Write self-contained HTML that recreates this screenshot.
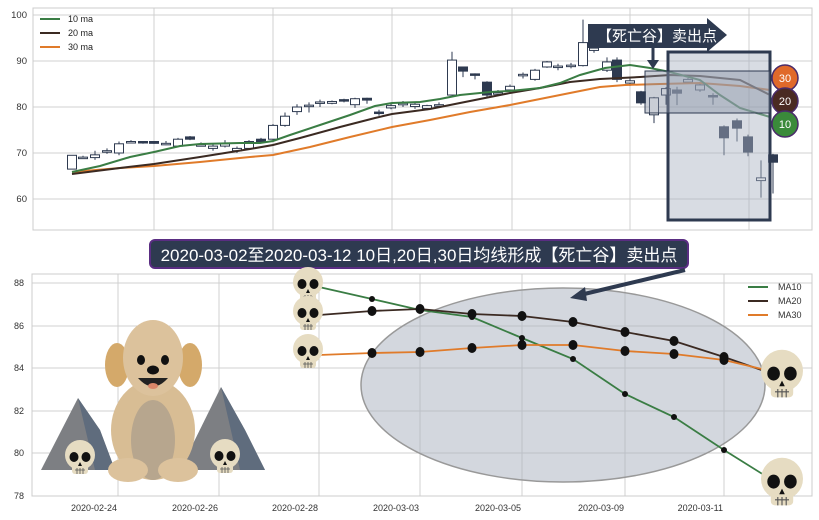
<!DOCTYPE html>
<html><head><meta charset="utf-8"><style>
html,body{margin:0;padding:0;background:#fff;width:819px;height:520px;overflow:hidden}
svg{display:block;font-family:"Liberation Sans","Noto Sans CJK SC",sans-serif}
</style></head><body>
<svg width="819" height="520" viewBox="0 0 819 520" xmlns="http://www.w3.org/2000/svg">
<defs>
<g id="sk">
<ellipse cx="0" cy="-3" rx="15" ry="15" fill="#e6dcc2"/>
<rect x="-8" y="6" width="16" height="10" rx="3" fill="#e6dcc2"/>
<ellipse cx="-6" cy="-1" rx="4.5" ry="5" fill="#111"/>
<ellipse cx="6" cy="-1" rx="4.5" ry="5" fill="#111"/>
<path d="M0 4 L-2 8 L2 8 Z" fill="#111"/>
<path d="M-5 12 H5 M-3 10 V16 M0 10 V16 M3 10 V16" stroke="#555" stroke-width="0.8"/>
</g>
</defs>
<!-- TOP CHART -->
<g stroke="#d0d0d0" stroke-width="1">
<line x1="33" y1="15" x2="812" y2="15"/><line x1="33" y1="61" x2="812" y2="61"/><line x1="33" y1="107" x2="812" y2="107"/><line x1="33" y1="153" x2="812" y2="153"/><line x1="33" y1="199" x2="812" y2="199"/>
<line x1="154" y1="8" x2="154" y2="230"/><line x1="273" y1="8" x2="273" y2="230"/><line x1="392" y1="8" x2="392" y2="230"/><line x1="512" y1="8" x2="512" y2="230"/><line x1="630" y1="8" x2="630" y2="230"/><line x1="749" y1="8" x2="749" y2="230"/>
</g>
<rect x="33" y="8" width="779" height="222" fill="none" stroke="#ccc"/>
<g font-size="9.5" fill="#333" text-anchor="end">
<text x="27" y="18">100</text><text x="27" y="64">90</text><text x="27" y="110">80</text><text x="27" y="156">70</text><text x="27" y="202">60</text>
</g>
<g font-size="9" fill="#222">
<line x1="40" y1="19" x2="60" y2="19" stroke="#3a7d44" stroke-width="2"/><text x="68" y="22">10 ma</text>
<line x1="40" y1="33" x2="60" y2="33" stroke="#3b2a22" stroke-width="2"/><text x="68" y="36">20 ma</text>
<line x1="40" y1="47" x2="60" y2="47" stroke="#e07b2a" stroke-width="2"/><text x="68" y="50">30 ma</text>
</g>
<g id="candles" stroke="#2e3a50" stroke-width="1"></g>
<polyline fill="none" stroke="#e07b2a" stroke-width="2" points="72,172 120,168 154,166 200,162 250,157 273,155 310,147 350,137 392,127 430,120 470,112 510,105 540,99 570,93 600,87 625,85 660,84 700,83 740,86 770,90"/>
<polyline fill="none" stroke="#3b2a22" stroke-width="2" points="72,174 120,168 154,164 200,157 250,149 273,145 300,138 340,127 375,118 392,114 430,109 470,101 510,93 540,88 570,82 600,79 640,77 670,75 700,76 740,80 770,95"/>
<polyline fill="none" stroke="#3a7d44" stroke-width="2" points="72,172 100,166 130,157 154,152 180,146 200,144 240,143 260,143 273,141 290,135 320,125 350,115 375,106 392,103 420,102 440,99 460,95 490,92 510,91 540,88 560,83 580,75 605,68 630,65 650,68 670,72 700,80 720,95 740,108 770,117"/>
<rect x="668" y="52" width="102" height="168" fill="#a9b1c0" fill-opacity="0.45" stroke="#2e3a50" stroke-width="3"/>
<rect x="645" y="71" width="125" height="42" fill="#8a93a3" fill-opacity="0.45" stroke="#2e3a50" stroke-width="1"/>
<path d="M588 24 H707 V18 L727 35 L707 52 V48 H588 Z" fill="#2e3a50"/>
<text x="597" y="41" font-size="15" fill="#fff">【死亡谷】卖出点</text>
<line x1="653" y1="48" x2="653" y2="62" stroke="#2e3a50" stroke-width="3"/><path d="M647 60 L659 60 L653 69 Z" fill="#2e3a50"/>
<g font-size="11" fill="#fff" text-anchor="middle" stroke-width="1.5" stroke="#4a2c6a">
<circle cx="785" cy="78" r="13" fill="#e0692a"/><circle cx="785" cy="101" r="13" fill="#4a2a22"/><circle cx="785" cy="124" r="13" fill="#3a8a3a"/>
</g>
<g font-size="11" fill="#fff" text-anchor="middle"><text x="785" y="82">30</text><text x="785" y="105">20</text><text x="785" y="128">10</text></g>
<!-- TITLE -->
<rect x="150" y="240" width="538" height="28" rx="5" fill="#2e3a50" stroke="#5a2d82" stroke-width="2"/>
<text x="419" y="261" font-size="17" fill="#fff" text-anchor="middle">2020-03-02至2020-03-12 10日,20日,30日均线形成【死亡谷】卖出点</text>
<!-- BOTTOM CHART -->
<g stroke="#d0d0d0" stroke-width="1">
<line x1="32" y1="283" x2="812" y2="283"/><line x1="32" y1="326" x2="812" y2="326"/><line x1="32" y1="368" x2="812" y2="368"/><line x1="32" y1="411" x2="812" y2="411"/><line x1="32" y1="453" x2="812" y2="453"/>
<line x1="118" y1="274" x2="118" y2="496"/><line x1="219" y1="274" x2="219" y2="496"/><line x1="319" y1="274" x2="319" y2="496"/><line x1="420" y1="274" x2="420" y2="496"/><line x1="522" y1="274" x2="522" y2="496"/><line x1="625" y1="274" x2="625" y2="496"/><line x1="724" y1="274" x2="724" y2="496"/>
</g>
<rect x="32" y="274" width="780" height="222" fill="none" stroke="#ccc"/>
<g font-size="9" fill="#333" text-anchor="end">
<text x="24" y="286">88</text><text x="24" y="329">86</text><text x="24" y="371">84</text><text x="24" y="414">82</text><text x="24" y="456">80</text><text x="24" y="499">78</text>
<text x="117" y="511">2020-02-24</text><text x="218" y="511">2020-02-26</text><text x="318" y="511">2020-02-28</text><text x="419" y="511">2020-03-03</text><text x="521" y="511">2020-03-05</text><text x="624" y="511">2020-03-09</text><text x="723" y="511">2020-03-11</text>
</g>
<ellipse cx="563" cy="385" rx="202" ry="97" fill="#a8afbd" fill-opacity="0.5" stroke="#999" stroke-width="1.5"/>
<line x1="685" y1="270" x2="580" y2="295" stroke="#2e3a50" stroke-width="4"/><path d="M570 298 L585 287 L587 301 Z" fill="#2e3a50"/>
<polyline fill="none" stroke="#3a7d44" stroke-width="1.8" points="319,287 372,299 420,310 472,317 522,338 573,359 625,394 674,417 724,450 780,485"/>
<polyline fill="none" stroke="#3b2a22" stroke-width="1.8" points="319,315 372,311 420,309 472,314 522,316 573,322 625,332 674,341 724,357 770,373"/>
<polyline fill="none" stroke="#e07b2a" stroke-width="1.8" points="319,355 372,353 420,352 472,348 522,345 573,345 625,351 674,354 724,360 770,371"/>
<g fill="#111">
<circle cx="372" cy="299" r="3"/><circle cx="420" cy="310" r="3"/><circle cx="472" cy="317" r="3"/><circle cx="522" cy="338" r="3"/><circle cx="573" cy="359" r="3"/><circle cx="625" cy="394" r="3"/><circle cx="674" cy="417" r="3"/><circle cx="724" cy="450" r="3"/>
<ellipse cx="372" cy="311" rx="4.5" ry="5"/><ellipse cx="420" cy="309" rx="4.5" ry="5"/><ellipse cx="472" cy="314" rx="4.5" ry="5"/><ellipse cx="522" cy="316" rx="4.5" ry="5"/><ellipse cx="573" cy="322" rx="4.5" ry="5"/><ellipse cx="625" cy="332" rx="4.5" ry="5"/><ellipse cx="674" cy="341" rx="4.5" ry="5"/><ellipse cx="724" cy="357" rx="4.5" ry="5"/>
<ellipse cx="372" cy="353" rx="4.5" ry="5"/><ellipse cx="420" cy="352" rx="4.5" ry="5"/><ellipse cx="472" cy="348" rx="4.5" ry="5"/><ellipse cx="522" cy="345" rx="4.5" ry="5"/><ellipse cx="573" cy="345" rx="4.5" ry="5"/><ellipse cx="625" cy="351" rx="4.5" ry="5"/><ellipse cx="674" cy="354" rx="4.5" ry="5"/><ellipse cx="724" cy="360" rx="4.5" ry="5"/>
</g>
<g font-size="9" fill="#333">
<line x1="748" y1="287" x2="768" y2="287" stroke="#3a7d44" stroke-width="2"/><text x="778" y="290">MA10</text>
<line x1="748" y1="301" x2="768" y2="301" stroke="#3b2a22" stroke-width="2"/><text x="778" y="304">MA20</text>
<line x1="748" y1="315" x2="768" y2="315" stroke="#e07b2a" stroke-width="2"/><text x="778" y="318">MA30</text>
</g>
<use href="#sk" x="308" y="285"/><use href="#sk" x="308" y="314"/><use href="#sk" x="308" y="352"/>
<use href="#sk" transform="translate(782 375) scale(1.4)"/><use href="#sk" transform="translate(782 483) scale(1.4)"/>
<!-- mountains & dog -->
<path d="M41 470 L78 398 L100 430 L115 470 Z" fill="#7d7f83"/><path d="M78 398 L100 430 L115 470 L95 470 Z" fill="#5f6c7d"/>
<path d="M180 470 L221 387 L245 430 L265 470 Z" fill="#7d7f83"/><path d="M221 387 L245 430 L265 470 L240 470 Z" fill="#5f6c7d"/>
<use href="#sk" x="80" y="458"/><use href="#sk" x="225" y="457"/>
<ellipse cx="153" cy="430" rx="42" ry="50" fill="#d8bd94"/>
<ellipse cx="153" cy="440" rx="22" ry="40" fill="#b7a68e"/>
<ellipse cx="128" cy="470" rx="20" ry="12" fill="#dcc29c"/><ellipse cx="178" cy="470" rx="20" ry="12" fill="#dcc29c"/>
<ellipse cx="117" cy="365" rx="12" ry="22" fill="#d4a96a"/><ellipse cx="190" cy="365" rx="12" ry="22" fill="#d4a96a"/>
<ellipse cx="153" cy="358" rx="30" ry="38" fill="#dcc29c"/>
<ellipse cx="141" cy="360" rx="4" ry="5" fill="#111"/><ellipse cx="165" cy="360" rx="4" ry="5" fill="#111"/>
<ellipse cx="153" cy="370" rx="6" ry="4.5" fill="#111"/>
<path d="M138 378 Q153 395 168 378 Z" fill="#222"/><ellipse cx="153" cy="386" rx="5" ry="3" fill="#d9876a"/>
<!-- Candles built below -->
<g id="cd"></g>
</svg>
<script>
var C=[[72,66.5,69.5,69.5,66.5],[83,69,69.1,69.4,68.8],[95,69,69.6,70.5,68.5],[107,70.4,70.5,71,69.8],[119,70,72,72.5,69.5],[131,72.4,72.5,72.8,72.2],[143,72.5,72.2,72.6,72],[154,72.5,72.1,72.6,72],[166,72,72.1,72.6,71.7],[178,71.5,73,73.3,71.3],[190,73.5,73,73.7,72.8],[201,71.7,71.8,72.3,71.4],[213,71,71.5,71.9,70.5],[225,71.5,72,72.8,71.2],[237,70.5,71,71.4,70],[249,71,72.5,72.8,70.8],[261,73,72.5,73.3,72.3],[273,73,76,76.3,72.8],[285,76,78,78.8,75.7],[297,79,80,80.6,78.3],[309,80.3,80.4,81,78.8],[320,81,81.1,81.6,80],[332,80.8,81.2,81.4,80.6],[344,81.6,81.3,81.8,81],[355,80.5,81.8,82,79.8],[367,81.9,81.5,82,80.7],[379,78.9,78.7,79.4,78.1],[391,79.8,80.3,80.8,79.5],[403,80.7,80.8,81.3,80],[415,80.1,80.6,81,79.6],[427,79.7,80.3,80.5,79.3],[439,80.4,80.5,81,79.8],[452,82.6,90.2,92,82.5],[463,88.7,87.8,88.8,86.5],[475,87.2,86.9,87.3,86],[487,85.4,82.6,85.6,82],[498,83,83.1,83.7,82.6],[510,83.7,84.5,84.9,83.5],[523,87,87.1,87.5,86.2],[535,86,88,88.3,85.7],[547,88.7,89.8,90,88.5],[558,88.8,88.9,89.4,88],[571,89,89.1,89.6,88.4],[583,89,94,99,88.8],[594,92.3,92.8,93,91.8],[607,88,89.8,90.8,87.6],[617,90.2,86,90.8,85.4],[630,85.2,85.7,86.6,84.6],[641,83.3,80.9,83.5,80.5],[654,78.3,82,82.2,76.5],[666,82.6,84,84.3,80.5],[677,83.7,83,84.4,80.4],[688,85.4,86,86.3,85],[700,83.7,84.8,85.5,83.3],[713,82.5,82.4,83,80.5],[724,75.7,73.3,76,69.5],[737,77,75.4,77.5,72.5],[748,73.5,70.2,74,69.3],[761,64,64.6,68.4,60.3],[773,69.6,68,69.8,61.2]];
function y(v){return 15+(100-v)*4.6}
var s='';C.forEach(function(c){var x=c[0],o=c[1],cl=c[2],h=c[3],l=c[4];var up=cl>=o;var t=y(Math.max(o,cl)),b=y(Math.min(o,cl));if(b-t<1.5){b=t+1.5}
s+='<line x1="'+x+'" y1="'+y(h)+'" x2="'+x+'" y2="'+y(l)+'" stroke="#2e3a50"/>';
s+='<rect x="'+(x-4.5)+'" y="'+t+'" width="9" height="'+(b-t)+'" fill="'+(up?'#fff':'#2e3a50')+'" stroke="#2e3a50"/>';});
document.getElementById('candles').innerHTML=s;
</script>
</body></html>
